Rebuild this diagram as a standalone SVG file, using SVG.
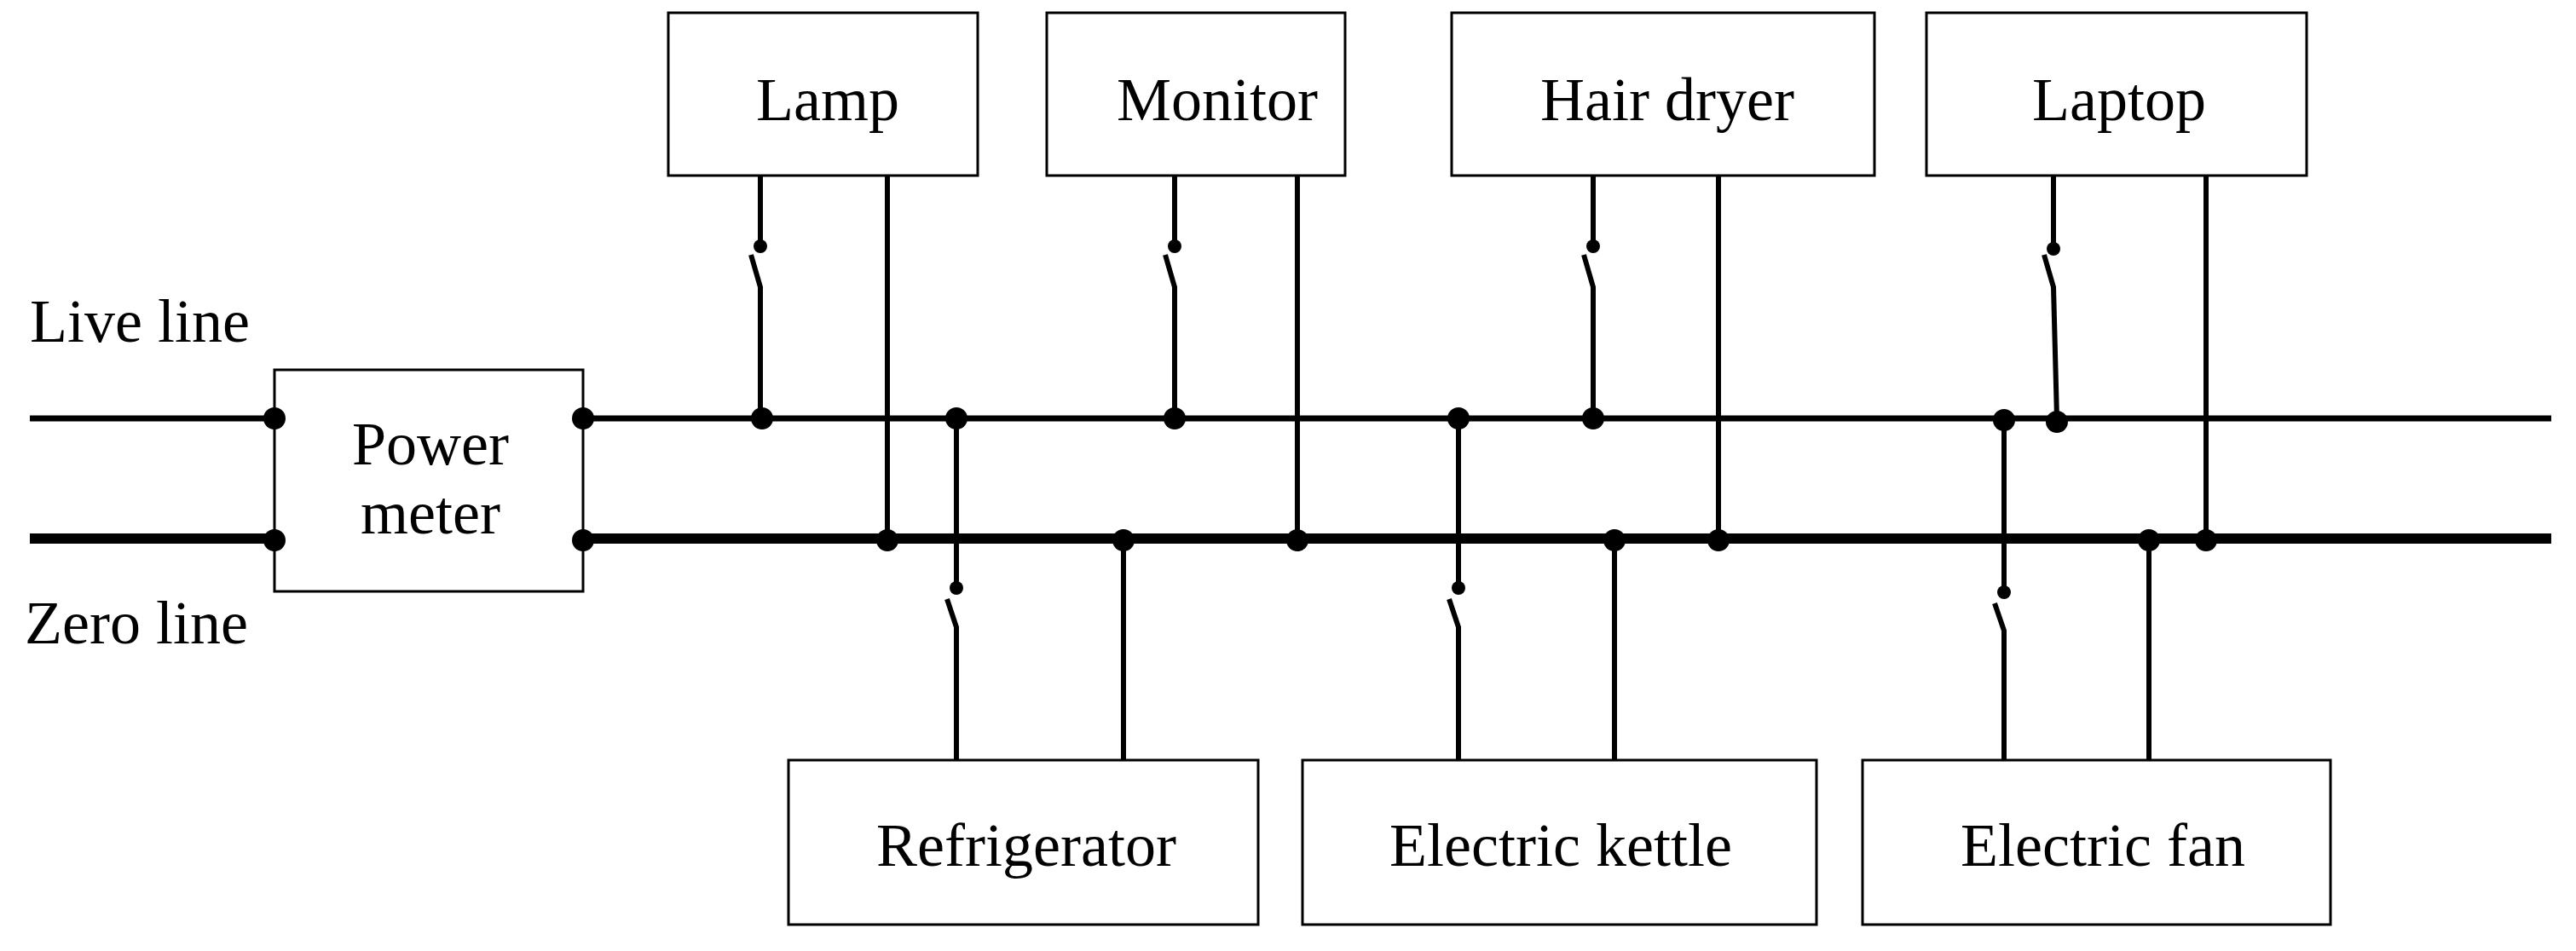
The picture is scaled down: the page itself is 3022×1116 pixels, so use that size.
<svg xmlns="http://www.w3.org/2000/svg" width="3022" height="1116" viewBox="0 0 3022 1116">
<style>
.box{fill:#fff;stroke:#000;stroke-width:3}
text{font-family:"Liberation Serif",serif;font-size:72px;fill:#000}
.c{text-anchor:middle}
.w{stroke:#000;stroke-width:6;fill:none}
.live{stroke:#000;stroke-width:7}
.zero{stroke:#000;stroke-width:12}
.d{fill:#000}
</style>
<rect width="3022" height="1116" fill="#fff"/>
<text x="35" y="401">Live line</text>
<text x="29" y="755">Zero line</text>
<g id="power-meter"><rect class="box" x="322" y="434" width="362" height="260"/><text class="c" x="505" y="545">Power</text><text class="c" x="505" y="626">meter</text></g>
<g id="lamp"><rect class="box" x="784" y="15" width="363" height="191"/><text class="c" x="971" y="141">Lamp</text></g>
<g id="monitor"><rect class="box" x="1228" y="15" width="350" height="191"/><text class="c" x="1428" y="141">Monitor</text></g>
<g id="hair-dryer"><rect class="box" x="1703" y="15" width="496" height="191"/><text class="c" x="1956" y="141">Hair dryer</text></g>
<g id="laptop"><rect class="box" x="2260" y="15" width="446" height="191"/><text class="c" x="2486" y="141">Laptop</text></g>
<g id="refrigerator"><rect class="box" x="925" y="892" width="551" height="193"/><text class="c" x="1204" y="1016">Refrigerator</text></g>
<g id="electric-kettle"><rect class="box" x="1528" y="892" width="603" height="193"/><text class="c" x="1831" y="1016">Electric kettle</text></g>
<g id="electric-fan"><rect class="box" x="2185" y="892" width="549" height="193"/><text class="c" x="2467" y="1016">Electric fan</text></g>
<g id="connectors">
<line class="live" x1="35" y1="491" x2="322" y2="491"/>
<line class="zero" x1="35" y1="632" x2="322" y2="632"/>
<line class="live" x1="684" y1="491" x2="2993" y2="491"/>
<line class="zero" x1="684" y1="632" x2="2993" y2="632"/>
<path class="w" d="M892 206V289M881 299L892 337V491"/>
<path class="w" d="M1378 206V289M1367 299L1378 337V491"/>
<path class="w" d="M1869 206V289M1858 299L1869 337V491"/>
<path class="w" d="M2409 206V289M2398 299L2409 337L2413 491"/>
<line class="w" x1="1041" y1="206" x2="1041" y2="632"/>
<line class="w" x1="1522" y1="206" x2="1522" y2="632"/>
<line class="w" x1="2016" y1="206" x2="2016" y2="632"/>
<line class="w" x1="2588" y1="206" x2="2588" y2="632"/>
<path class="w" d="M1122 491V690M1111 703L1122 736V892"/>
<path class="w" d="M1711 491V690M1700 703L1711 736V892"/>
<path class="w" d="M2351 491V695M2340 708L2351 740V892"/>
<line class="w" x1="1318" y1="632" x2="1318" y2="892"/>
<line class="w" x1="1894" y1="632" x2="1894" y2="892"/>
<line class="w" x1="2521" y1="632" x2="2521" y2="892"/>
<g class="d">
<circle cx="892" cy="289" r="8"/><circle cx="1378" cy="289" r="8"/><circle cx="1869" cy="289" r="8"/><circle cx="2409" cy="292" r="8"/>
<circle cx="1122" cy="690" r="8"/><circle cx="1711" cy="690" r="8"/><circle cx="2351" cy="695" r="8"/>
<circle cx="322" cy="491" r="13"/><circle cx="322" cy="634" r="13"/><circle cx="684" cy="491" r="13"/><circle cx="684" cy="634" r="13"/>
<circle cx="894" cy="491" r="13"/><circle cx="1122" cy="491" r="13"/><circle cx="1378" cy="491" r="13"/><circle cx="1711" cy="491" r="13"/><circle cx="1869" cy="491" r="13"/><circle cx="2351" cy="493" r="13"/><circle cx="2413" cy="495" r="13"/>
<circle cx="1041" cy="634" r="13"/><circle cx="1318" cy="634" r="13"/><circle cx="1522" cy="634" r="13"/><circle cx="1894" cy="634" r="13"/><circle cx="2016" cy="634" r="13"/><circle cx="2521" cy="634" r="13"/><circle cx="2588" cy="634" r="13"/>
</g>
</g>
</svg>
